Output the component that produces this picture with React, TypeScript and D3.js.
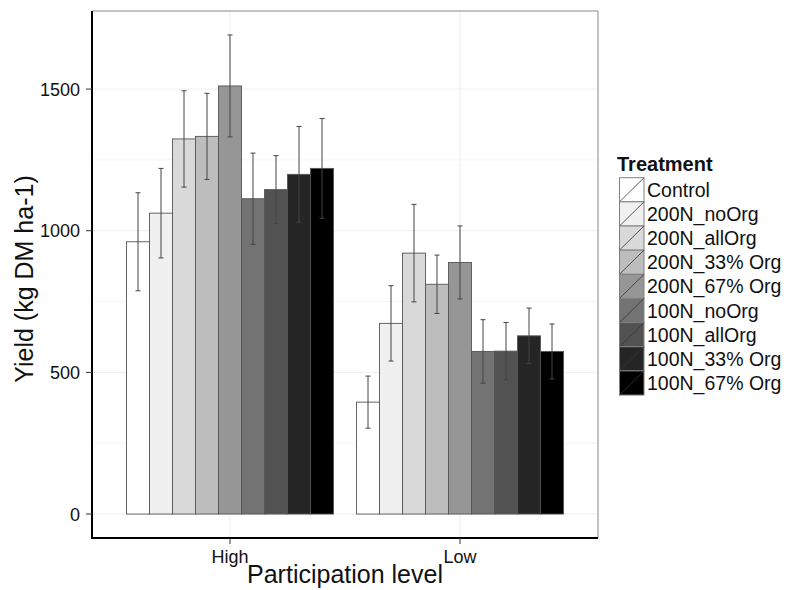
import * as d3 from "d3"

const groups = ["High", "Low"]
const treatments = [
  "Control",
  "200N_noOrg",
  "200N_allOrg",
  "200N_33% Org",
  "200N_67% Org",
  "100N_noOrg",
  "100N_allOrg",
  "100N_33% Org",
  "100N_67% Org",
]
const fills = ["#FFFFFF", "#F0F0F0", "#D9D9D9", "#BDBDBD", "#969696", "#737373", "#525252", "#252525", "#000000"]

// mean yield per treatment, one array per participation level
const highMeans = [961, 1062, 1324, 1333, 1511, 1113, 1145, 1199, 1220]
const highErr = [173, 158, 170, 152, 180, 161, 120, 169, 176]
const lowMeans = [395, 673, 921, 811, 888, 574, 575, 629, 574]
const lowErr = [92, 133, 172, 103, 129, 112, 101, 98, 97]

const yTicks = [0, 500, 1000, 1500]
const yMinor = [250, 750, 1250]

const font = "'Liberation Sans', Arial, Helvetica, sans-serif"

export default function App() {
  const W = 787
  const H = 590
  const panel = { left: 92, right: 598, top: 11, bottom: 538 }

  const rows = groups.flatMap((g, gi) =>
    treatments.map((t, ti) => ({
      group: g,
      treatment: t,
      ti,
      mean: gi === 0 ? highMeans[ti] : lowMeans[ti],
      err: gi === 0 ? highErr[ti] : lowErr[ti],
    })),
  )

  const maxTop = d3.max(rows, (d) => d.mean + d.err) || 0
  const pad = maxTop * 0.05
  const y = d3.scaleLinear().domain([-pad, maxTop + pad]).range([panel.bottom, panel.top])

  // discrete x with ggplot-style 0.6 expansion
  const xc = d3.scaleLinear().domain([0.4, 2.6]).range([panel.left, panel.right])
  const groupWidth = (xc(2) - xc(1)) * 0.9
  const x1 = d3.scaleBand().domain(treatments).range([-groupWidth / 2, groupWidth / 2])

  const legendTop = 177.7
  const rowH = 24.15

  return (
    <svg width={W} height={H} style={{ position: "absolute", left: 0, top: 0 }} fontFamily={font}>
      <rect width={W} height={H} fill="#fff" />

      {/* grid */}
      {yMinor.map((v) => (
        <line key={"m" + v} x1={panel.left} x2={panel.right} y1={y(v)} y2={y(v)} stroke="#F5F5F5" strokeWidth={1} />
      ))}
      {yTicks.map((v) => (
        <line key={"g" + v} x1={panel.left} x2={panel.right} y1={y(v)} y2={y(v)} stroke="#EEEEEE" strokeWidth={1} />
      ))}
      {groups.map((g, i) => (
        <line key={"v" + g} x1={xc(i + 1)} x2={xc(i + 1)} y1={panel.top} y2={panel.bottom} stroke="#EEEEEE" strokeWidth={1} />
      ))}

      {/* bars */}
      {rows.map((d) => {
        const cx = xc(groups.indexOf(d.group) + 1)
        const bx = cx + (x1(d.treatment) || 0)
        return (
          <rect
            key={d.group + d.treatment}
            x={bx}
            y={y(d.mean)}
            width={x1.bandwidth()}
            height={y(0) - y(d.mean)}
            fill={fills[d.ti]}
            stroke="#555"
            strokeWidth={0.9}
          />
        )
      })}

      {/* error bars */}
      {rows.map((d) => {
        const cx = xc(groups.indexOf(d.group) + 1) + (x1(d.treatment) || 0) + x1.bandwidth() / 2
        const cap = 2.5
        return (
          <g key={"e" + d.group + d.treatment} stroke="#444" strokeWidth={1}>
            <line x1={cx} x2={cx} y1={y(d.mean - d.err)} y2={y(d.mean + d.err)} />
            <line x1={cx - cap} x2={cx + cap} y1={y(d.mean - d.err)} y2={y(d.mean - d.err)} />
            <line x1={cx - cap} x2={cx + cap} y1={y(d.mean + d.err)} y2={y(d.mean + d.err)} />
          </g>
        )
      })}

      {/* panel border */}
      <line x1={panel.left} x2={panel.right} y1={panel.top} y2={panel.top} stroke="#8a8a8a" strokeWidth={1} />
      <line x1={panel.right} x2={panel.right} y1={panel.top} y2={panel.bottom} stroke="#8a8a8a" strokeWidth={1} />
      <line x1={panel.left} x2={panel.left} y1={panel.top} y2={panel.bottom + 1} stroke="#000" strokeWidth={2} />
      <line x1={panel.left - 1} x2={panel.right} y1={panel.bottom} y2={panel.bottom} stroke="#000" strokeWidth={2} />

      {/* y axis */}
      {yTicks.map((v) => (
        <g key={"t" + v}>
          <line x1={panel.left - 6} x2={panel.left} y1={y(v)} y2={y(v)} stroke="#333" strokeWidth={1} />
          <text x={80} y={y(v)} dy="0.36em" textAnchor="end" fontSize={18} fill="#111">
            {v}
          </text>
        </g>
      ))}
      <text
        transform={`translate(32.5,279) rotate(-90)`}
        textAnchor="middle"
        fontSize={25}
        fill="#111"
      >
        Yield (kg DM ha-1)
      </text>

      {/* x axis */}
      {groups.map((g, i) => (
        <g key={"x" + g}>
          <line x1={xc(i + 1)} x2={xc(i + 1)} y1={panel.bottom} y2={panel.bottom + 6} stroke="#333" strokeWidth={1} />
          <text x={xc(i + 1)} y={563} textAnchor="middle" fontSize={18} fill="#111">
            {g}
          </text>
        </g>
      ))}
      <text x={(panel.left + panel.right) / 2} y={583} textAnchor="middle" fontSize={25} fill="#111">
        Participation level
      </text>

      {/* legend */}
      <text x={617} y={170.5} fontSize={20} fontWeight="bold" fill="#111">
        Treatment
      </text>
      {treatments.map((t, i) => {
        const ky = legendTop + i * rowH
        return (
          <g key={"l" + t}>
            <rect x={619.5} y={ky} width={24.5} height={rowH} fill={fills[i]} stroke="#808080" strokeWidth={1} />
            <line x1={619.5} y1={ky + rowH} x2={644} y2={ky} stroke="#333" strokeWidth={0.8} />
            <text x={647} y={ky + rowH / 2} dy="0.36em" fontSize={19.5} fill="#111">
              {t}
            </text>
          </g>
        )
      })}
    </svg>
  )
}
